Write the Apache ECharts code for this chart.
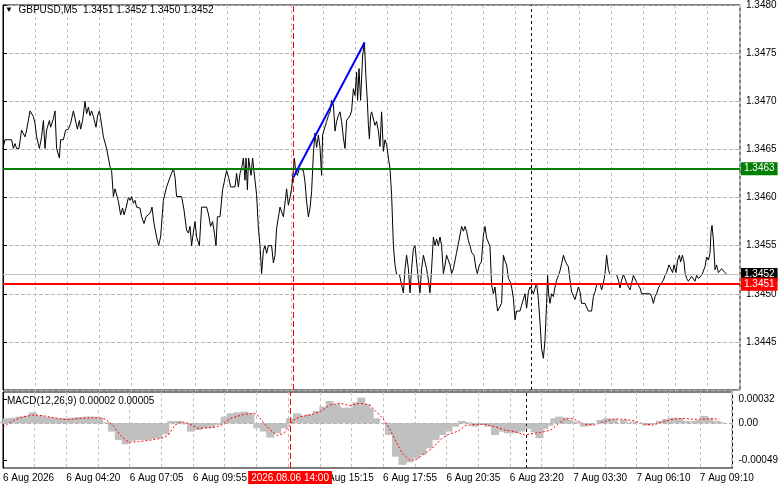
<!DOCTYPE html>
<html>
<head>
    <meta charset="utf-8">
    <title>GBPUSD,M5</title>
    <script src="https://cdn.jsdelivr.net/npm/echarts@6/dist/echarts.min.js"></script>
    <style>html,body{margin:0;padding:0;background:#fff;}</style>
</head>
<body>
<div id="main" style="width:781px;height:489px;"></div>
<script type="text/javascript">
var FONT = '"Liberation Sans", Arial, sans-serif';

// x axis: bar number (M5 bars), one label every 32 bars
var timeLabels = ['6 Aug 2026', '6 Aug 04:20', '6 Aug 07:05', '6 Aug 09:55', '6 Aug 12:35', '6 Aug 15:15',
    '6 Aug 17:55', '6 Aug 20:35', '6 Aug 23:20', '7 Aug 03:30', '7 Aug 06:10', '7 Aug 09:10'];
var lastBar = 368.5;

// levels
var greenLevel = 1.3463;
var redLevel = 1.3451;
var bidLevel = 1.3452;
var crossBar = 145;      // 2026.08.06 14:00
var dayBar = 264.3;      // 7 Aug 00:00 separator
var trendFrom = [145.2, 1.34621];
var trendTo = [180.8, 1.34761];

// close line [bar, price]
var closes = [
    [0, 1.34651], [1, 1.34660], [4.3, 1.34660], [5.2, 1.34651], [6, 1.34656], [6.8, 1.34651], [8, 1.34651],
    [9.3, 1.34670], [10.2, 1.34668], [11, 1.34663], [11.8, 1.34670], [13.5, 1.34690], [14.3, 1.34690],
    [15.2, 1.34684], [16, 1.34677], [16.8, 1.34663], [18.2, 1.34651], [19.3, 1.34663], [20.2, 1.34680],
    [21, 1.34651], [21.8, 1.34670], [23.2, 1.34680], [23.8, 1.34673], [25.2, 1.34682], [26, 1.34690],
    [26.8, 1.34651], [28.2, 1.34641], [28.8, 1.34660], [30.2, 1.34660], [31.3, 1.34670], [32.7, 1.34671],
    [33.8, 1.34677], [35.2, 1.34690], [36, 1.34690], [37.2, 1.34671], [38.2, 1.34680], [38.8, 1.34671],
    [39.8, 1.34680], [41, 1.34700], [41.8, 1.34687], [42.7, 1.34694], [43.5, 1.34685], [44.3, 1.34690],
    [45.2, 1.34684], [46.5, 1.34673], [47.3, 1.34685], [48.2, 1.34690], [48.7, 1.34684], [50.2, 1.34663],
    [51.8, 1.34651], [53.5, 1.34632], [54.3, 1.34628], [55.2, 1.34601], [56, 1.34609], [56.8, 1.34610],
    [57.7, 1.34596], [58.8, 1.34582], [59.8, 1.34589], [60.5, 1.34582], [61.5, 1.34589], [62.7, 1.34600],
    [63.5, 1.34597], [64.3, 1.34601], [65.2, 1.34594], [66, 1.34597], [66.8, 1.34590], [68.5, 1.34589],
    [69.3, 1.34580], [70.5, 1.34573], [71.5, 1.34580], [72.7, 1.34582], [73.8, 1.34585], [74.5, 1.34590],
    [75.5, 1.34573], [76.8, 1.34559], [77.8, 1.34550], [78.8, 1.34559], [80.2, 1.34597], [81.8, 1.34611],
    [83.5, 1.34621], [85.2, 1.34630], [86, 1.34621], [86.8, 1.34601], [89.3, 1.34601], [90.5, 1.34587],
    [91.8, 1.34566], [92.7, 1.34563], [93.5, 1.34570], [94.3, 1.34550], [95.2, 1.34564], [96, 1.34575],
    [96.8, 1.34559], [98.2, 1.34550], [99.3, 1.34590], [101.8, 1.34590], [102.7, 1.34583], [103.8, 1.34570],
    [104.8, 1.34575], [105.7, 1.34563], [106.5, 1.34550], [107.2, 1.34580], [108.5, 1.34580], [109.8, 1.34608],
    [111.8, 1.34628], [112.8, 1.34621], [113.8, 1.34611], [116, 1.34611], [116.8, 1.34625], [117.7, 1.34611],
    [118.5, 1.34625], [119.3, 1.34630], [120.2, 1.34641], [121, 1.34618], [121.5, 1.34641], [122.2, 1.34608],
    [122.8, 1.34641], [124, 1.34623], [124.8, 1.34641], [125.5, 1.34627], [126, 1.34628], [126.8, 1.34603],
    [127.7, 1.34568], [128.5, 1.34550], [129.3, 1.34521], [130.2, 1.34545], [131, 1.34550], [131.8, 1.34542],
    [132.7, 1.34550], [134.3, 1.34550], [135.2, 1.34532], [136, 1.34540], [136.8, 1.34568], [138.5, 1.34590],
    [139.3, 1.34589], [140.2, 1.34580], [141, 1.34580], [141.8, 1.34609], [142.7, 1.34592], [143.5, 1.34600],
    [144.3, 1.34609], [144.8, 1.34620], [145.7, 1.34641], [146.3, 1.34628], [147.2, 1.34623], [148.2, 1.34630],
    [148.8, 1.34630], [150.2, 1.34628], [151, 1.34616], [151.8, 1.34596], [152.7, 1.34580], [153.5, 1.34589],
    [154.3, 1.34606], [155.2, 1.34646], [156, 1.34667], [156.8, 1.34652], [157.7, 1.34665], [158.5, 1.34652],
    [159.3, 1.34623], [159.8, 1.34665], [160.5, 1.34667], [161.8, 1.34679], [162.7, 1.34685], [163.5, 1.34689],
    [164.3, 1.34701], [165.2, 1.34696], [166, 1.34669], [166.8, 1.34679], [167.7, 1.34685], [168.5, 1.34689],
    [169.3, 1.34679], [170.2, 1.34662], [171, 1.34651], [171.8, 1.34680], [172.7, 1.34682], [173.5, 1.34685],
    [174.3, 1.34690], [175.2, 1.34713], [176, 1.34706], [176.8, 1.34730], [177.3, 1.34701], [178, 1.34734],
    [178.8, 1.34701], [179.8, 1.34747], [180.7, 1.34761], [181.5, 1.34724], [182.2, 1.34699], [182.7, 1.34675],
    [183.2, 1.34661], [183.8, 1.34685], [184.3, 1.34689], [185.2, 1.34691], [186, 1.34675], [186.8, 1.34679],
    [187.7, 1.34669], [188.5, 1.34653], [189.3, 1.34689], [190.2, 1.34648], [191, 1.34660], [191.8, 1.34655],
    [192.7, 1.34641], [193.5, 1.34630], [194.3, 1.34603], [195.2, 1.34550], [196, 1.34530], [196.8, 1.34520],
    [198.2, 1.34520], [199.3, 1.34509], [200.2, 1.34501], [201, 1.34526], [201.8, 1.34540], [202.7, 1.34526],
    [203.5, 1.34501], [204.3, 1.34526], [205.2, 1.34547], [206, 1.34550], [206.8, 1.34533], [207.7, 1.34514],
    [208.5, 1.34501], [209.3, 1.34526], [210.2, 1.34540], [211, 1.34533], [211.8, 1.34526], [212.7, 1.34514],
    [213.5, 1.34501], [214.3, 1.34526], [215.2, 1.34559], [216, 1.34550], [216.8, 1.34557], [217.7, 1.34550],
    [218.5, 1.34559], [219.3, 1.34550], [220.2, 1.34521], [221, 1.34530], [221.8, 1.34540], [222.7, 1.34540],
    [223.5, 1.34530], [224.3, 1.34521], [225.2, 1.34526], [226.8, 1.34543], [228.5, 1.34561], [229.3, 1.34570],
    [230.2, 1.34565], [231, 1.34570], [231.8, 1.34565], [232.7, 1.34555], [233.5, 1.34550], [234.3, 1.34543],
    [235.5, 1.34540], [236.5, 1.34526], [237.2, 1.34521], [238.2, 1.34530], [239.2, 1.34533], [240.2, 1.34561],
    [241, 1.34570], [241.8, 1.34558], [242.7, 1.34559], [243.5, 1.34549], [244.3, 1.34509], [245.2, 1.34500],
    [246, 1.34507], [246.8, 1.34490], [247.3, 1.34482], [248.2, 1.34482], [249.3, 1.34490], [250.2, 1.34540],
    [251, 1.34534], [251.8, 1.34530], [252.7, 1.34516], [253.5, 1.34513], [254.3, 1.34507], [255.2, 1.34495],
    [256, 1.34473], [256.8, 1.34482], [258.5, 1.34482], [259.3, 1.34488], [260.2, 1.34490], [261, 1.34500],
    [261.8, 1.34485], [262.7, 1.34502], [263.5, 1.34507], [264.3, 1.34504], [265.2, 1.34500], [266, 1.34502],
    [266.8, 1.34511], [267.7, 1.34494], [268.5, 1.34470], [269.3, 1.34443], [270.2, 1.34433], [271, 1.34452],
    [271.8, 1.34490], [272.3, 1.34519], [272.8, 1.34500], [273.5, 1.34490], [274.3, 1.34500], [275.2, 1.34497],
    [276, 1.34507], [276.8, 1.34514], [277.7, 1.34519], [278.5, 1.34524], [279.3, 1.34531], [280.2, 1.34540],
    [281, 1.34535], [281.8, 1.34531], [282.7, 1.34528], [283.5, 1.34514], [284.3, 1.34502], [285.2, 1.34500],
    [286, 1.34494], [286.8, 1.34500], [287.7, 1.34507], [288.5, 1.34502], [289.3, 1.34490], [291, 1.34490],
    [291.8, 1.34488], [292.7, 1.34482], [294.3, 1.34482], [295.2, 1.34497], [296, 1.34502], [296.8, 1.34509],
    [297.7, 1.34507], [298.5, 1.34511], [299.3, 1.34504], [300.2, 1.34511], [301, 1.34521], [301.8, 1.34540],
    [302.7, 1.34525], [303.5, 1.34520], [306.8, 1.34520], [307.7, 1.34514], [308.5, 1.34506], [309.3, 1.34514],
    [310.2, 1.34520], [311, 1.34516], [311.8, 1.34511], [312.7, 1.34511], [313.5, 1.34504], [314.3, 1.34511],
    [315.2, 1.34519], [316, 1.34518], [316.8, 1.34512], [317.7, 1.34511], [318.5, 1.34506], [319.3, 1.34500],
    [323.5, 1.34500], [324.3, 1.34497], [325.2, 1.34490], [326, 1.34497], [326.8, 1.34500], [327.7, 1.34506],
    [328.5, 1.34509], [330.2, 1.34514], [331, 1.34519], [331.8, 1.34522], [333, 1.34530], [333.8, 1.34530],
    [334.8, 1.34522], [335.5, 1.34530], [336.5, 1.34522], [337.3, 1.34535], [338.2, 1.34540], [338.8, 1.34533],
    [339.7, 1.34540], [340.5, 1.34533], [341, 1.34522], [341.8, 1.34516], [342.7, 1.34513], [343.5, 1.34513],
    [344.3, 1.34518], [345.2, 1.34516], [346, 1.34513], [346.8, 1.34519], [347.7, 1.34516], [348.5, 1.34514],
    [349.3, 1.34519], [350.2, 1.34519], [351, 1.34528], [351.8, 1.34538], [352.7, 1.34535], [353.5, 1.34542],
    [354, 1.34564], [354.5, 1.34571], [355.2, 1.34556], [356, 1.34525], [356.8, 1.34530], [357.7, 1.34522],
    [358.5, 1.34521], [359.3, 1.34526], [360.2, 1.34528], [361, 1.34522], [361.8, 1.34520]
];

// MACD(12,26,9) in points (1 point = 0.00001)
var POINT = 0.00001;
var macdHist = [
    [0, 2.2], [2, 6.6], [5, 7.4], [8.5, 8.8], [12, 10], [15, 14.4], [18.5, 10], [22, 8.3], [25, 7.4],
    [28.5, 6.6], [32, 6.6], [35, 7.4], [38.5, 8.3], [42, 8.8], [45, 8.8], [48.5, 7.4], [52, 1.3], [55, -10.9],
    [58.5, -21.9], [62, -27.6], [65, -23.2], [68.5, -21.9], [72, -21.9], [75, -20.6], [78.5, -19.7],
    [82, -14.4], [85, 3.1], [88.5, 3.1], [92, -1.3], [95, -10.9], [98.5, -8.8], [102, -6.6], [105, -5.7],
    [108.5, -2.2], [112, 8.8], [115, 13.1], [118.5, 14.4], [122, 15.3], [125, 13.1], [128.5, -6.6],
    [131.8, -10.9], [135, -18.8], [138.5, -13.1], [141.8, -6.6], [145, 6.6], [148.5, 13.1], [151.8, 10],
    [155, 11.8], [158.5, 16.2], [161.8, 21.9], [165, 29.3], [168.5, 24.9], [171.8, 20.6], [175, 20.6],
    [178.5, 27.6], [181, 33.7], [183.5, 24.9], [185.2, 19.7], [188.5, 6.6], [191.8, 0], [195, -15.3],
    [198.5, -43.8], [201.8, -54.7], [205, -51.2], [208.5, -46], [211.8, -41.6], [215, -32.8], [218.5, -21.9],
    [221.8, -15.3], [225, -10.9], [228.5, -4.4], [231.8, 3.1], [235, 1.3], [238.5, -4.4], [241.8, -2.2],
    [245, -4.4], [248.5, -15.3], [251.8, -10.9], [255, -13.1], [258.5, -13.1], [261.8, -10.9], [265, -7.4],
    [268.5, -11.8], [271, -19.7], [273.5, -7.4], [276, -3.1], [278.5, 6.6], [281, 8.8], [283.5, 7.4],
    [286, 4.4], [288.5, 2.2], [291, 0.9], [293.5, -4.4], [296, -3.1], [298.5, 0], [301.8, 4.4], [305, 6.6],
    [308.5, 5.7], [313.5, 4.4], [318.5, 2.2], [321.8, 0], [325, -3.1], [328.5, -1.3], [331.8, 3.1],
    [335, 5.7], [338.5, 7.4], [341.8, 6.6], [345, 3.1], [349.3, 3.1], [351.8, 4.4], [354.3, 9.6],
    [356.8, 6.6], [360.2, 3.1], [361.8, 2]
];
var macdSignal = [
    [0, -5.7], [3.5, 1.3], [8.5, 7.4], [15, 10.9], [20, 10], [27, 6.6], [32, 4.8], [40, 6.6], [48.5, 7.4],
    [52, 5.3], [56, -4.4], [60, -17.5], [63.5, -24.9], [68.5, -24.1], [75, -21.9], [80, -19.7], [83.5, -15.3],
    [87, -2.2], [90, 2.2], [93.5, 0], [98.5, -6.6], [105, -5.7], [110, -3.1], [115, 6.6], [122, 11.8],
    [127, 13.1], [128.5, 10.9], [131.8, 0], [135, -8.8], [138.5, -16.2], [141.8, -13.1], [144.3, -4.4],
    [146.8, 4.4], [150.2, 8.8], [155.2, 10.9], [160.2, 15.3], [165.2, 24.1], [170.2, 26.3], [175.2, 23.2],
    [180.2, 26.3], [185.2, 24.1], [188.5, 15.3], [191.8, 6.6], [195.2, -6.6], [198.5, -24.1], [201.8, -39.4],
    [205.2, -48.1], [208.5, -48.1], [211.8, -41.6], [216.8, -32.8], [221.8, -19.7], [225.2, -14.4],
    [230.2, -10.1], [233.5, -3.1], [238.5, -1.3], [243.5, -1.3], [248.5, -4.4], [253.5, -8.8], [258.5, -10.9],
    [263.5, -15.3], [268.5, -13.1], [273.5, -10.9], [276.8, -8.8], [280.2, -1.3], [283.5, 5.3], [286.8, 6.6],
    [290.2, 3.5], [293.5, -1.3], [298.5, -2.2], [303.5, 2.2], [308.5, 5.7], [313.5, 5.3], [318.5, 3.5],
    [323.5, -0.9], [328.5, -2.2], [333.5, 2.2], [338.5, 5.3], [343.5, 6.6], [348.5, 5.3], [353.5, 5.3],
    [358.5, 6.1], [361.8, 5]
];
var macdTicks = [0.00032, 0, -0.00049];

function toPrice(pts) {
    return pts.map(function (d) { return [d[0], d[1] * POINT]; });
}

// horizontal level across the whole chart, with its price box on the axis
function level(value, color, width, boxColor) {
    return [{
        coord: [0, value],
        lineStyle: { color: color, width: width, type: 'solid' },
        label: {
            show: true, position: 'end', distance: 1, formatter: value.toFixed(4),
            backgroundColor: boxColor, color: '#fff', fontFamily: FONT, fontSize: 10,
            padding: [2, 3, 1, 3]
        }
    }, { coord: [lastBar, value] }];
}

var chart = echarts.init(document.getElementById('main'));
var option = {
    animation: false,
    backgroundColor: '#fff',
    title: [{
        text: '{t|▼}  GBPUSD,M5  1.3451 1.3452 1.3450 1.3452',
        left: 5, top: 5, padding: 0,
        textStyle: { fontFamily: FONT, fontSize: 10, fontWeight: 'normal', color: '#000',
            rich: { t: { fontSize: 8, color: '#000' } } }
    }, {
        text: 'MACD(12,26,9) 0.00002 0.00005',
        left: 7, top: 396, padding: 0,
        textStyle: { fontFamily: FONT, fontSize: 10, fontWeight: 'normal', color: '#000' }
    }],
    grid: [
        { left: 3, right: 41, top: 4, height: 386, show: true, borderColor: '#000', borderWidth: 1 },
        { left: 3, right: 41, top: 392, height: 76, show: true, borderColor: '#000', borderWidth: 1 }
    ],
    xAxis: [{
        type: 'value', gridIndex: 0, min: 0, max: lastBar, interval: 16,
        axisLine: { show: false }, axisTick: { show: false }, axisLabel: { show: false },
        splitLine: { show: true, lineStyle: { color: '#c0c0c0', width: 1, type: [3, 3] } }
    }, {
        type: 'value', gridIndex: 1, min: 0, max: lastBar, interval: 16,
        axisLine: { show: false }, axisTick: { show: false },
        axisLabel: {
            fontFamily: FONT, fontSize: 10, color: '#000', align: 'left', margin: 5,
            showMaxLabel: false,
            formatter: function (v) {
                if (v % 32 !== 0) return '';
                return timeLabels[v / 32] || '';
            }
        },
        splitLine: { show: true, lineStyle: { color: '#c0c0c0', width: 1, type: [3, 3] } }
    }],
    yAxis: [{
        type: 'value', gridIndex: 0, position: 'right',
        min: 1.3440, max: 1.3480, interval: 0.0005,
        axisLine: { show: true, lineStyle: { color: '#000' } },
        axisTick: { show: true, length: 4, lineStyle: { color: '#000' } },
        axisLabel: { fontFamily: FONT, fontSize: 10, color: '#000', margin: 6, showMinLabel: false,
            formatter: function (v) { return v.toFixed(4); } },
        splitLine: { show: true, lineStyle: { color: '#b4b4b4', width: 1, type: 'dashed' } }
    }, {
        type: 'value', gridIndex: 1, position: 'right',
        min: -0.000587, max: 0.000411,
        axisLine: { show: true, lineStyle: { color: '#000' } },
        axisTick: { show: true, length: 4, lineStyle: { color: '#000' }, customValues: macdTicks },
        axisLabel: {
            fontFamily: FONT, fontSize: 10, color: '#000', margin: 6, customValues: macdTicks,
            formatter: function (v) { return v === 0 ? '0.00' : v.toFixed(5); }
        },
        splitLine: { show: false }
    }],
    series: [{
        name: 'GBPUSD', type: 'line', xAxisIndex: 0, yAxisIndex: 0,
        data: closes, showSymbol: false, symbol: 'none',
        lineStyle: { color: '#000', width: 1 },
        z: 3,
        markLine: {
            silent: true, symbol: 'none', animation: false,
            label: { show: false },
            data: [
                { xAxis: crossBar, lineStyle: { color: '#ff0000', width: 1, type: [6, 3] } },
                { xAxis: dayBar, lineStyle: { color: '#000', width: 1, type: [3, 3] } },
                level(bidLevel, '#c0c0c0', 1, '#000'),
                level(greenLevel, '#008000', 2, '#008000'),
                level(redLevel, '#ff0000', 2, '#ff0000'),
                [{ coord: trendFrom, lineStyle: { color: '#0000ff', width: 2, type: 'solid' } },
                    { coord: trendTo }]
            ]
        }
    }, {
        name: 'MACD', type: 'bar', xAxisIndex: 1, yAxisIndex: 1,
        data: toPrice(macdHist), barWidth: 8,
        itemStyle: { color: '#c0c0c0' },
        markLine: {
            silent: true, symbol: 'none', animation: false,
            label: { show: false },
            data: [
                { xAxis: crossBar, lineStyle: { color: '#ff0000', width: 1, type: [6, 3] },
                    label: { show: true, position: 'start', distance: 3, formatter: '2026.08.06 14:00',
                        backgroundColor: '#ff0000', color: '#fff', fontFamily: FONT, fontSize: 10,
                        padding: [2, 3, 1, 3] } },
                { xAxis: dayBar, lineStyle: { color: '#000', width: 1, type: [3, 3] } }
            ]
        }
    }, {
        name: 'Signal', type: 'line', xAxisIndex: 1, yAxisIndex: 1,
        data: toPrice(macdSignal), showSymbol: false, symbol: 'none',
        lineStyle: { color: '#ff0000', width: 1, type: [2, 2] },
        markLine: {
            silent: true, symbol: 'none', animation: false, label: { show: false },
            data: [[{ coord: [0, 0], lineStyle: { color: '#b4b4b4', width: 1, type: 'dashed' } },
                { coord: [lastBar, 0] }]]
        }
    }]
};
chart.setOption(option);
</script>
</body>
</html>
